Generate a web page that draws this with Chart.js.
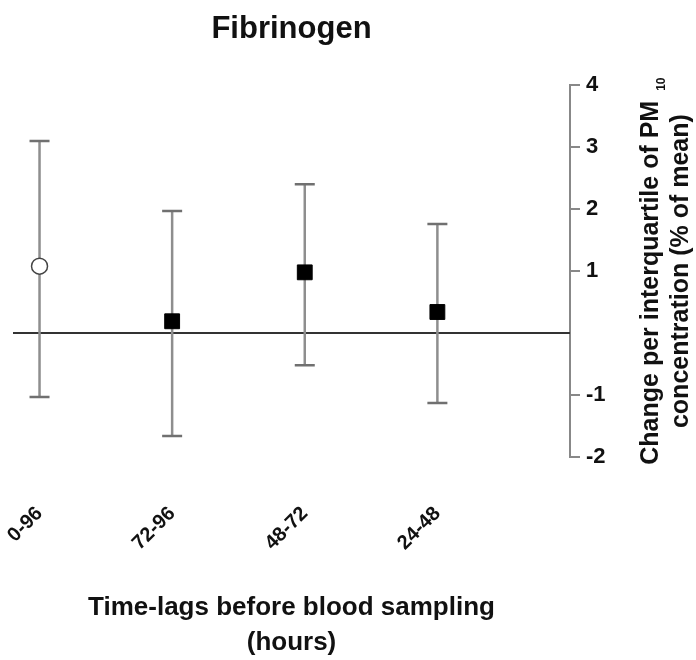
<!DOCTYPE html>
<html>
<head>
<meta charset="utf-8">
<title>Fibrinogen</title>
<script src="https://cdn.jsdelivr.net/npm/chart.js@4.4.1/dist/chart.umd.min.js"></script>
<style>
  html, body { margin: 0; padding: 0; background: #fff; }
  #wrap { width: 696px; height: 660px; position: relative; }
</style>
</head>
<body>
<div id="wrap"><canvas id="chart"></canvas></div>
<script>
// time-lag windows, left to right
const categories = ["0-96", "72-96", "48-72", "24-48"];
// change per IQR of PM10 (% of mean), with 95% CI
const estimates = [1.08, 0.19, 0.98, 0.34];
const lower = [-1.03, -1.66, -0.52, -1.13];
const upper = [3.10, 1.97, 2.40, 1.76];
const yTicks = [-2, -1, 0, 1, 2, 3, 4];

const FONT = "'Liberation Sans', Arial, sans-serif";

// error bars + zero line, drawn under the markers
const errorBars = {
  id: "errorBars",
  beforeDatasetsDraw(chart) {
    const { ctx, chartArea, scales: { x, y } } = chart;
    ctx.save();

    const y0 = y.getPixelForValue(0);
    ctx.strokeStyle = "#333";
    ctx.lineWidth = 2;
    ctx.beginPath();
    ctx.moveTo(chartArea.left, y0);
    ctx.lineTo(chartArea.right, y0);
    ctx.stroke();

    categories.forEach((_, i) => {
      const px = x.getPixelForValue(i);
      const top = y.getPixelForValue(upper[i]);
      const bot = y.getPixelForValue(lower[i]);
      ctx.strokeStyle = "#8e8e8e";
      ctx.lineWidth = 2.5;
      ctx.beginPath();
      ctx.moveTo(px, top);
      ctx.lineTo(px, bot);
      ctx.stroke();
      ctx.strokeStyle = "#707070";
      ctx.beginPath();
      ctx.moveTo(px - 10, top);
      ctx.lineTo(px + 10, top);
      ctx.moveTo(px - 10, bot);
      ctx.lineTo(px + 10, bot);
      ctx.stroke();
    });
    ctx.restore();
  }
};

// y title reads bottom-to-top on the right side, with PM subscript
const rightTitle = {
  id: "rightTitle",
  afterDraw(chart) {
    const { ctx, chartArea, scales: { y } } = chart;
    const cy = (chartArea.top + chartArea.bottom) / 2;
    const line1 = "Change per interquartile of PM";
    const line2 = "concentration (% of mean)";
    ctx.save();
    ctx.translate(y.right - 45, cy);
    ctx.rotate(-Math.PI / 2);
    ctx.fillStyle = "#111";
    ctx.textBaseline = "middle";

    ctx.font = "bold 25px " + FONT;
    const w1 = ctx.measureText(line1).width;
    ctx.font = "bold 12px " + FONT;
    const wSub = ctx.measureText("10").width;
    const gap = 10;
    const start = -(w1 + gap + wSub) / 2;

    ctx.font = "bold 25px " + FONT;
    ctx.textAlign = "left";
    ctx.fillText(line1, start, 0);
    ctx.font = "bold 12px " + FONT;
    ctx.fillText("10", start + w1 + gap, 11);

    ctx.font = "bold 25px " + FONT;
    ctx.textAlign = "center";
    ctx.fillText(line2, 0, 30);
    ctx.restore();
  }
};

new Chart(document.getElementById("chart"), {
  type: "scatter",
  data: {
    datasets: [{
      data: estimates.map((v, i) => ({ x: i, y: v })),
      pointStyle: ["circle", "rect", "rect", "rect"],
      pointRadius: [8, 10.5, 10.5, 10.5],
      pointBackgroundColor: ["#fff", "#000", "#000", "#000"],
      pointBorderColor: ["#444", "#000", "#000", "#000"],
      pointBorderWidth: [1.5, 1, 1, 1]
    }]
  },
  options: {
    responsive: true,
    maintainAspectRatio: false,
    animation: false,
    layout: { padding: { left: 13, right: 0, top: 0, bottom: 0 } },
    plugins: {
      legend: { display: false },
      tooltip: { enabled: false },
      title: {
        display: true,
        text: "Fibrinogen",
        fullSize: false,
        color: "#111",
        font: { family: FONT, size: 31, weight: "bold" },
        padding: { top: 11, bottom: 37 }
      }
    },
    scales: {
      x: {
        type: "linear",
        min: -0.2,
        max: 4,
        grid: { display: false, drawTicks: false },
        border: { display: false },
        afterBuildTicks: (scale) => {
          scale.ticks = categories.map((_, i) => ({ value: i }));
        },
        afterFit: (scale) => {
          scale.height = 203;
          scale.paddingLeft = 0;
          scale.paddingRight = 0;
        },
        ticks: {
          autoSkip: false,
          minRotation: 45,
          maxRotation: 45,
          padding: 45,
          color: "#111",
          font: { family: FONT, size: 20, weight: "bold" },
          callback: (v) => categories[v]
        },
        title: {
          display: true,
          text: ["Time-lags before blood sampling", "(hours)"],
          color: "#111",
          font: { family: FONT, size: 26, weight: "bold", lineHeight: 1.35 },
          padding: { top: 0, bottom: 0 }
        }
      },
      y: {
        position: "right",
        min: -2,
        max: 4,
        afterBuildTicks: (scale) => {
          scale.ticks = yTicks.map((v) => ({ value: v }));
        },
        afterFit: (scale) => {
          scale.width = 126;
          scale.paddingTop = 0;
          scale.paddingBottom = 0;
        },
        grid: {
          drawOnChartArea: false,
          drawTicks: true,
          tickLength: 10,
          lineWidth: 2,
          color: (c) => (c.tick && c.tick.value === 0 ? "rgba(0,0,0,0)" : "#888")
        },
        border: { display: true, color: "#888", width: 2 },
        ticks: {
          padding: 6,
          color: "#111",
          font: { family: FONT, size: 22, weight: "bold" },
          callback: (v) => (v === 0 ? "" : v)
        }
      }
    }
  },
  plugins: [errorBars, rightTitle]
});
</script>
</body>
</html>
